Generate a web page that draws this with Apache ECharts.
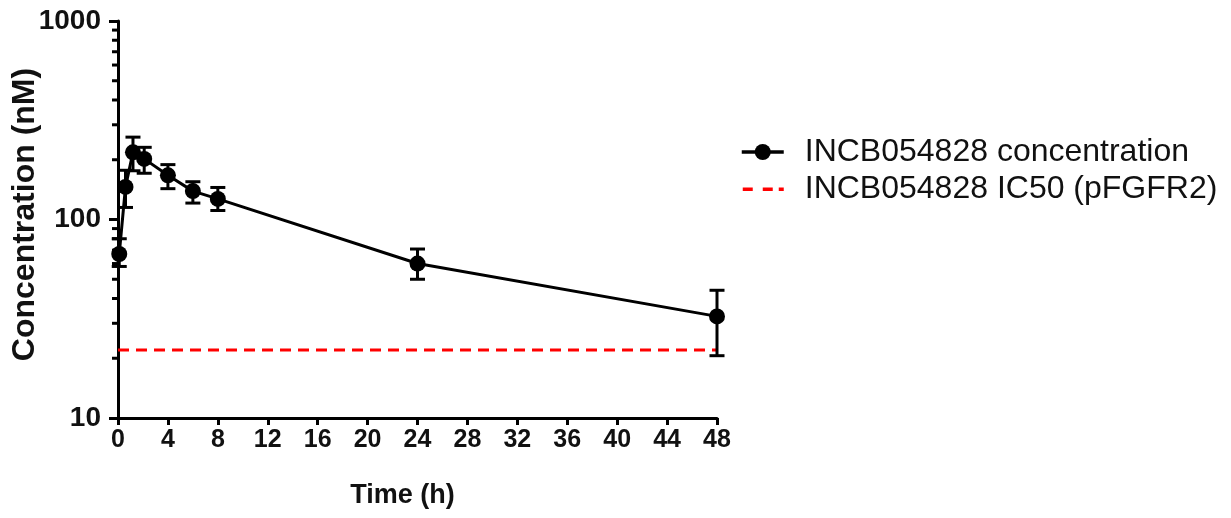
<!DOCTYPE html>
<html>
<head>
<meta charset="utf-8">
<script src="https://cdn.jsdelivr.net/npm/echarts@6/dist/echarts.min.js"></script>
<style>html,body{margin:0;padding:0;background:#fff;}#c{width:1231px;height:518px;}</style>
</head>
<body>
<div id="c"></div>
<script>
const times = [0.1, 0.6, 1.2, 2.1, 4, 6, 8, 24, 48];
const conc = [67, 146, 218, 202, 167, 139, 127, 60, 32.5];
const errLow = [58, 115, 176, 171, 143, 121, 111, 50, 20.6];
const errHigh = [80, 177, 260, 231, 189, 155, 145, 71, 44];
const ic50 = 22;
const ic50Range = [0, 48];
const xTicks = [0, 4, 8, 12, 16, 20, 24, 28, 32, 36, 40, 44, 48];
const yMinor = [20, 30, 40, 50, 60, 70, 80, 90, 200, 300, 400, 500, 600, 700, 800, 900];
const seriesNames = ['INCB054828 concentration', 'INCB054828 IC50 (pFGFR2)'];

const font = 'Arial, "Liberation Sans", sans-serif';
const chart = echarts.init(document.getElementById('c'), null, {renderer: 'canvas'});

const dashIcon = 'path://M0,0h0.05v0.05h-0.05z M1,8.5h10v3.5h-10z M21,8.5h10v3.5h-10z M37,8.5h5v3.5h-5z M41.95,19.95h0.05v0.05h-0.05z';

const option = {
  animation: false,
  backgroundColor: '#fff',
  grid: {left: 118, right: 514, top: 21, bottom: 100, containLabel: false},
  legend: {
    orient: 'vertical',
    left: 740, top: 136, padding: 0,
    itemWidth: 42, itemHeight: 20, itemGap: 5,
    textStyle: {fontFamily: font, fontSize: 32, color: '#111', padding: [0, 0, 0, 16]},
    data: [
      {name: seriesNames[0], lineStyle: {width: 3.5}},
      {name: seriesNames[1], icon: dashIcon, itemStyle: {color: '#ff0000'}}
    ]
  },
  xAxis: {
    type: 'value', min: 0, max: 48, interval: 4,
    name: 'Time (h)', nameLocation: 'middle', nameGap: 64,
    nameTextStyle: {fontFamily: font, fontSize: 27, fontWeight: 'bold', color: '#111', padding: [0, 30, 0, 0]},
    axisLine: {lineStyle: {color: '#000', width: 3}},
    axisTick: {show: true, length: 7, lineStyle: {color: '#000', width: 3}},
    axisLabel: {fontFamily: font, fontSize: 25, fontWeight: 'bold', color: '#111', margin: 10,
      customValues: xTicks},
    splitLine: {show: false}
  },
  yAxis: {
    type: 'log', logBase: 10, min: 10, max: 1000,
    name: 'Concentration (nM)', nameLocation: 'middle', nameGap: 77, nameMoveOverlap: false,
    nameTextStyle: {fontFamily: font, fontSize: 32, fontWeight: 'bold', color: '#111', padding: [0, 0, 0, 10]},
    axisLine: {show: true, lineStyle: {color: '#000', width: 3}},
    axisTick: {show: true, length: 9, lineStyle: {color: '#000', width: 3}},
    axisLabel: {fontFamily: font, fontSize: 28, fontWeight: 'bold', color: '#111', margin: 17,
      formatter: function (v) { return String(Math.round(v)); }},
    splitLine: {show: false},
    minorTick: {show: false}
  },
  series: [
    {
      name: seriesNames[0], type: 'line',
      data: times.map((t, i) => [t, conc[i]]),
      symbol: 'circle', symbolSize: 16,
      itemStyle: {color: '#000'},
      lineStyle: {color: '#000', width: 3},
      z: 5
    },
    {
      name: seriesNames[1], type: 'line',
      data: ic50Range.map(t => [t, ic50]),
      symbol: 'none', showSymbol: false,
      itemStyle: {color: '#ff0000'},
      lineStyle: {color: '#ff0000', width: 3, type: [11, 7]},
      z: 3
    },
    {
      type: 'custom', name: 'err', silent: true, clip: false,
      data: times.map((t, i) => [t, errLow[i], errHigh[i]]),
      renderItem: function (params, api) {
        const lo = api.coord([api.value(0), api.value(1)]);
        const hi = api.coord([api.value(0), api.value(2)]);
        const w = 7.5;
        const st = {stroke: '#000', lineWidth: 3};
        return {type: 'group', children: [
          {type: 'line', shape: {x1: lo[0], y1: lo[1], x2: hi[0], y2: hi[1]}, style: st},
          {type: 'line', shape: {x1: lo[0] - w, y1: lo[1], x2: lo[0] + w, y2: lo[1]}, style: st},
          {type: 'line', shape: {x1: hi[0] - w, y1: hi[1], x2: hi[0] + w, y2: hi[1]}, style: st}
        ]};
      },
      z: 4
    },
    {
      type: 'custom', name: 'minorTicks', silent: true, clip: false,
      data: yMinor.map(v => [0, v]),
      renderItem: function (params, api) {
        const p = api.coord([api.value(0), api.value(1)]);
        return {type: 'line', shape: {x1: p[0] - 6, y1: p[1], x2: p[0], y2: p[1]},
          style: {stroke: '#000', lineWidth: 3}};
      },
      z: 2
    }
  ]
};
chart.setOption(option);
</script>
</body>
</html>
